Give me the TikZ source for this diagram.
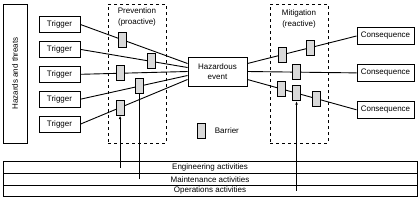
\documentclass[tikz,border=0pt]{standalone}
\usepackage{fontspec}
\setmainfont{Liberation Sans}
\usetikzlibrary{arrows.meta,calc,positioning}

\begin{document}
\begin{tikzpicture}[x=1pt,y=-1pt,>={Latex[length=3.5pt,width=2.6pt]},
    font=\fontsize{8}{10.5}\selectfont,line width=.9pt,
    every node/.style={align=center,inner sep=1pt},
    box/.style={draw,minimum height=16pt},
    trig/.style={box,minimum width=41pt},
    cons/.style={box,minimum width=57pt,minimum height=17pt},
    zone/.style={draw,dashed,line width=.8pt,minimum width=58pt,minimum height=139pt},
    barrier/.style={draw,fill=black!15,minimum width=8pt,minimum height=15pt,inner sep=0pt},
    activity/.style={draw,outer sep=0pt,minimum width=414pt,minimum height=11.7pt,inner sep=0pt}]
    \useasboundingbox (0,0) rectangle (420,201);
    \node[draw,rotate=90,minimum width=139pt,minimum height=24pt] (threats) at (15,73.5) {Hazards and threats};
    \node[trig] (t1) at (59.5,24.5) {Trigger};
    \node[trig,below=8pt of t1] (t2) {Trigger};
    \node[trig,below=8pt of t2] (t3) {Trigger};
    \node[trig,below=8pt of t3] (t4) {Trigger};
    \node[trig,below=8pt of t4] (t5) {Trigger};
    \node[zone] (prev) at (137,73.5) {};
    \node[below=3pt of prev.north] (prevlbl) {Prevention\\(proactive)};
    \node[zone] (mit) at (299,73.5) {};
    \node[below=5pt of mit.north] (mitlbl) {Mitigation\\(reactive)};
    \node[box,minimum width=59pt,minimum height=29pt] (ev) at (217.5,71.5) {Hazardous\\event};
    \node[cons] (c1) at (385.5,36) {Consequence};
    \node[cons,below=19pt of c1] (c2) {Consequence};
    \node[cons,below=19pt of c2] (c3) {Consequence};
    \node[barrier] (key) at (201,131) {};
    \node[right=8pt of key] (keylbl) {Barrier};
    \node[activity] (eng) at (210,167.5) {Engineering activities};
    \node[activity,below=0pt of eng] (mnt) {Maintenance activities};
    \node[activity,below=0pt of mnt] (ops) {Operations activities};
    % triggers to the event
    \draw (t1.east) -- node[barrier,pos=.39] (b1) {} ([yshift=8pt]ev.west);
    \draw (t2.east) -- node[barrier,pos=.66] (b2) {} ([yshift=4pt]ev.west);
    \draw (t3.east) -- node[barrier,pos=.37] (b3) {} (ev.west);
    \draw (t4.east) -- node[barrier,pos=.55] (b4) {} ([yshift=-4pt]ev.west);
    \draw (t5.east) -- node[barrier,pos=.37] (b5) {} ([yshift=-8pt]ev.west);
    % event to the consequences
    \draw ([yshift=8pt]ev.east) -- node[barrier,pos=.32] (m1) {} node[barrier,pos=.575] (m2) {} (c1.west);
    \draw (ev.east) -- node[barrier,pos=.45] (m3) {} (c2.west);
    \draw ([yshift=-8pt]ev.east) -- node[barrier,pos=.31] (m4) {} node[barrier,pos=.45] (m5) {} node[barrier,pos=.63] (m6) {} (c3.west);
    % activities
    \draw[->] (b5 |- eng) -- (b5);
    \draw (b4 |- mnt) -- (b4);
    \draw[->] (m5 |- ops) -- (m5);
\end{tikzpicture}
\end{document}
